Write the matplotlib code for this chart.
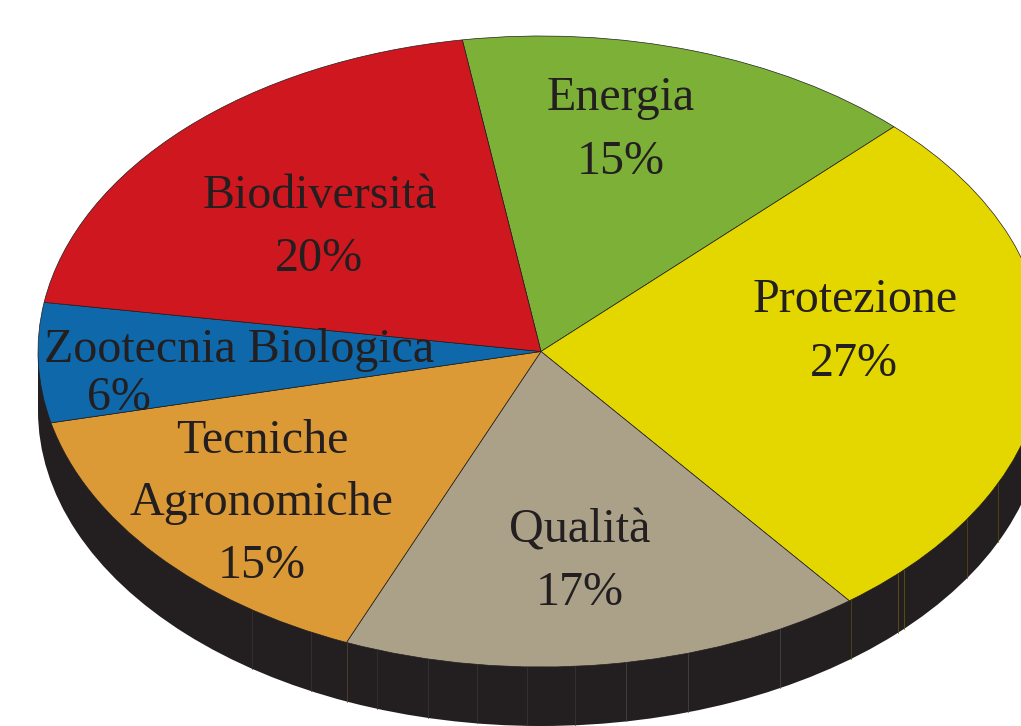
import matplotlib
matplotlib.use('Agg')
import matplotlib.pyplot as plt
from matplotlib.patches import Rectangle
import numpy as np

W, H = 1021, 726
cx, cy = 541, 351.5
rx, ry = 503, 315.5
depth = 59

# slices, clockwise from the Energia/Biodiversita edge
values = [14.88, 27.12, 16.82, 15.05, 6.12, 20.01]
colors = ['#7db037', '#e4d700', '#aba088', '#dc9a36', '#0f68a9', '#ce171f']
dark = '#231f20'

# text lines: string, centre x, baseline y (picture pixels)
label_text = ['Energia', '15%', 'Protezione', '27%', 'Qualità', '17%',
              'Tecniche', 'Agronomiche', '15%', 'Zootecnia Biologica', '6%',
              'Biodiversità', '20%']
label_x = [621, 621, 855, 854, 580, 580, 262, 261, 262, 239, 119, 320, 319]
label_y = [110, 174, 312, 376, 543, 605, 453, 515, 578, 362, 410, 208, 271]

# faint seams on the side wall
seam_x = [252, 311, 347, 377, 428, 477, 527, 575, 626, 688, 780, 851, 898, 904, 967, 998]
seam_col = ['#3a3430', '#3a3430', '#5a4a35', '#3a3430', '#3a3838', '#3a3838', '#3a3838', '#3a3838',
            '#4a4a4a', '#4a4a4a', '#4a4a4a', '#5a5010', '#6a6010', '#6a6010', '#5a5010', '#5a5010']

plt.rcParams['font.family'] = 'Liberation Serif'

def nx(px):
    return (px - cx) / rx

def ny(py):
    return (cy - py) / ry

fig = plt.figure(figsize=(W / 100, H / 100), dpi=100)
ax = fig.add_axes([0, 0, 1, 1])

# side wall first: a dark copy moved down, and the band between the two
ax.pie([1], colors=[dark], center=(0, -depth / ry), radius=1, wedgeprops={'linewidth': 0})
ax.add_patch(Rectangle((-1, -depth / ry), 2, depth / ry, facecolor=dark, edgecolor='none'))

ax.pie(values, colors=colors, startangle=99, counterclock=False, radius=1,
       wedgeprops={'edgecolor': dark, 'linewidth': 0.5, 'zorder': 3})

for sx, c in zip(seam_x, seam_col):
    top = -np.sqrt(1 - nx(sx) ** 2)
    ax.plot([nx(sx), nx(sx)], [top, top - depth / ry], color=c, lw=0.5, zorder=2)

for t, x, y in zip(label_text, label_x, label_y):
    ax.text(nx(x), ny(y), t, ha='center', va='baseline', fontsize=34.6, color=dark, zorder=5)

ax.set_aspect('auto')
ax.set_xlim(nx(0), nx(W))
ax.set_ylim(ny(H), ny(0))
ax.axis('off')

fig.savefig('out.png', dpi=100)
